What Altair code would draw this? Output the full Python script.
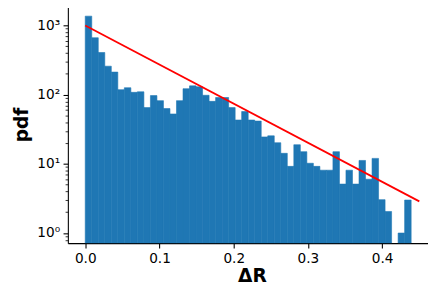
import altair as alt
import pandas as pd
import numpy as np

# histogram: 50 equal bins between these edges
bin_lo = 0.0
bin_hi = 0.439
counts = [1364, 665, 407, 258, 212, 118, 126, 108, 110, 65,
          97, 82, 63, 52.6, 82, 122, 134, 130, 98, 80,
          91, 91, 65, 43, 57, 43, 41.5, 24.5, 25.4, 20.2,
          14.2, 9.2, 18.9, 15, 10.2, 9.2, 8.1, 8.1, 15, 5.1,
          8.1, 5.1, 11.2, 6.0, 12, 3.04, 2.05, 0, 1, 3]

# red exponential fit line (end points)
line_x = [0.0, 0.45]
line_y = [1000, 2.87]

x_ticks = [0.0, 0.1, 0.2, 0.3, 0.4]
y_major = [1, 10, 100, 1000]
y_labels = ["10⁰", "10¹", "10²", "10³"]

edges = np.linspace(bin_lo, bin_hi, len(counts) + 1)
bars_df = pd.DataFrame({"x0": edges[:-1], "x1": edges[1:], "c": counts})
bars_df = bars_df[bars_df.c > 0]
line_df = pd.DataFrame({"x": line_x, "y": line_y})

W, H = 367, 242
ymin, ymax = 0.714, 1932
xscale = alt.Scale(domain=[-0.0234, 0.4617], nice=False, zero=False)
yscale = alt.Scale(type="log", domain=[ymin, ymax], nice=False)

minor = [m * 10 ** k for k in range(-1, 4) for m in range(2, 10)]
yvals = sorted(y_major + [v for v in minor if ymin <= v <= ymax])

label_expr = " : ".join(
    f"datum.value == {v} ? '{l}'" for v, l in zip(y_major, y_labels)
) + " : ''"
is_major = "indexof([1,10,100,1000], datum.value) >= 0"

xaxis = alt.Axis(values=x_ticks, format=".1f", title="ΔR", tickSize=4.9,
                 tickWidth=1.1, labelPadding=3.5, titlePadding=1.5, titleX=187.5,
                 labelFlush=False)
yaxis = alt.Axis(values=yvals, labelExpr=label_expr, title="pdf",
                 labelOverlap=False, labelFlush=False, labelPadding=3.5,
                 tickSize={"condition": {"test": is_major, "value": 4.9}, "value": 2.8},
                 tickWidth={"condition": {"test": is_major, "value": 1.1}, "value": 0.8},
                 titlePadding=5)

bars = alt.Chart(bars_df).mark_bar(
    color="#1f77b4", stroke="#1f77b4", strokeWidth=0.6, clip=True
).encode(
    x=alt.X("x0:Q", scale=xscale, axis=xaxis),
    x2="x1:Q",
    y=alt.Y("c:Q", scale=yscale, axis=yaxis),
    y2=alt.value(H),
)

line = alt.Chart(line_df).mark_line(color="red", strokeWidth=1.8, clip=True).encode(
    x=alt.X("x:Q", scale=xscale),
    y=alt.Y("y:Q", scale=yscale),
)

top_spine = alt.Chart(pd.DataFrame({"a": [0]})).mark_rule(color="black", strokeWidth=1.1).encode(
    x=alt.value(0), x2=alt.value(W), y=alt.value(0)
)

chart = alt.layer(bars, line, top_spine).properties(
    width=W, height=H,
    autosize=alt.AutoSizeParams(type="none"),
    padding={"left": 61, "top": -5, "right": 0, "bottom": 41},
).configure_view(stroke=None).configure_axis(
    grid=False, domainColor="black", domainWidth=1.1, tickColor="black",
    labelFont="DejaVu Sans", labelFontSize=13.9, labelColor="black",
    titleFont="DejaVu Sans", titleFontSize=19, titleFontWeight="bold",
    titleColor="black",
)

chart.save("out.html", embed_options={"renderer": "svg", "actions": False})
